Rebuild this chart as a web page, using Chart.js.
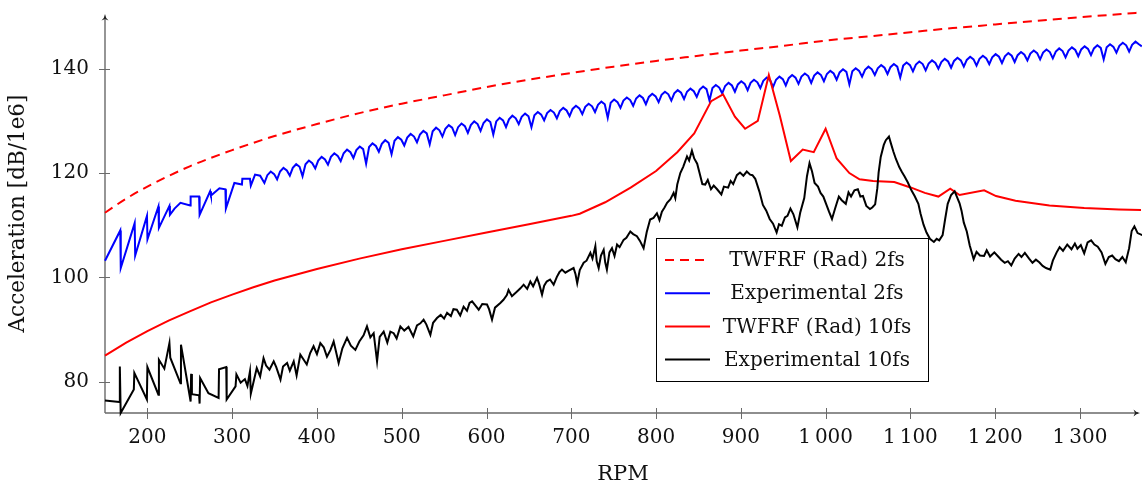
<!DOCTYPE html>
<html>
<head>
<meta charset="utf-8">
<script src="https://cdn.jsdelivr.net/npm/chart.js@4.4.1/dist/chart.umd.min.js"></script>
<style>
  html, body { margin: 0; padding: 0; background: #fff; }
  #wrap { width: 1142px; height: 487px; }
</style>
</head>
<body>
<div id="wrap"><canvas id="c" width="1142" height="487"></canvas></div>
<script>
// tick positions
const xTicks = [200, 300, 400, 500, 600, 700, 800, 900, 1000, 1100, 1200, 1300];
const yTicks = [80, 100, 120, 140];

// TWFRF (Rad) 2fs, read every 50 rpm
const twfrf2Rpm = [150, 175, 200, 250, 300, 350, 400, 450, 500, 550, 600, 650, 700, 750, 800, 850, 900, 950, 1000, 1050, 1100, 1150, 1200, 1250, 1300, 1350, 1372];
const twfrf2Acc = [112.4, 115.1, 117.4, 121.3, 124.4, 127.1, 129.4, 131.5, 133.3, 134.9, 136.5, 137.9, 139.2, 140.4, 141.5, 142.5, 143.5, 144.4, 145.4, 146.2, 147.0, 147.8, 148.5, 149.2, 149.9, 150.5, 150.8];

// TWFRF (Rad) 10fs
const twfrf10Rpm = [150, 175, 200, 225, 250, 275, 300, 325, 350, 375, 400, 450, 500, 550, 600, 650, 700, 710, 740, 770, 800, 825, 845, 865, 879, 893, 905, 920, 933, 946, 959, 973, 986, 1000, 1013, 1028, 1040, 1056, 1081, 1101, 1117, 1133, 1147, 1158, 1187, 1201, 1224, 1264, 1305, 1346, 1372];
const twfrf10Acc = [85.0, 87.5, 89.7, 91.7, 93.5, 95.2, 96.7, 98.1, 99.4, 100.5, 101.6, 103.6, 105.4, 107.0, 108.6, 110.2, 111.8, 112.2, 114.4, 117.2, 120.4, 124.0, 127.6, 133.8, 135.1, 130.8, 128.5, 130.0, 138.8, 131.0, 122.3, 124.5, 124.0, 128.5, 122.8, 120.0, 118.8, 118.5, 118.3, 117.2, 116.2, 115.5, 117.0, 115.8, 116.7, 115.6, 114.7, 113.8, 113.3, 113.0, 112.9];

// Experimental 2fs [rpm, dB]
const exp2fs = [
  [150,103.2],[168,109.0],[168.6,101.8],[185,110.4],[185.6,104.2],[199.5,111.8],[200.1,107.3],[213,113.6],[213.6,109.5],
  [226,113.7],[226.6,112.0],[232,113.2],[239,114.3],[250.5,113.8],[251,115.5],[261,115.5],[261.6,112.0],[274,116.5],
  [275,115.7],[285,117.1],[292,116.9],[292.6,113.2],[302.6,118.1],[311.5,117.8],[312,118.9],[321,118.9],[322,117.6],
  [327,119.7],[333,119.5],
  [338,118.1],[341.5,119.6],[345.5,120.3],[349.5,119.8],
  [353,118.8],[356.5,120.3],[360.5,121.0],[364.5,120.5],
  [368,119.5],[371.5,121.0],[375.5,121.7],[379.5,121.2],
  [383,119.4],[386.5,121.7],[390.5,122.4],[394.5,121.9],
  [398,120.9],[401.5,122.4],[405.5,123.1],[409.5,122.6],
  [413,121.6],[416.5,123.1],[420.5,123.8],[424.5,123.3],
  [428,122.3],[431.5,123.8],[435.5,124.5],[439.5,124.0],
  [443,122.9],[446.5,124.4],[450.5,125.1],[454.5,124.6],
  [458,121.8],[461.5,125.0],[465.5,125.7],[469.5,125.2],
  [473,124.1],[476.5,125.6],[480.5,126.3],[484.5,125.8],
  [488,123.6],[491.5,126.2],[495.5,126.9],[499.5,126.4],
  [503,125.3],[506.5,126.8],[510.5,127.5],[514.5,127.0],
  [518,125.9],[521.5,127.4],[525.5,128.1],[529.5,127.6],
  [533,125.5],[536.5,128.0],[540.5,128.7],[544.5,128.2],
  [548,127.0],[551.5,128.5],[555.5,129.2],[559.5,128.7],
  [563,127.3],[566.5,128.8],[570.5,129.5],[574.5,129.0],
  [578,127.7],[581.5,129.2],[585.5,129.9],[589.5,129.4],
  [593,128.1],[596.5,129.6],[600.5,130.3],[604.5,129.8],
  [608,127.4],[611.5,129.9],[615.5,130.6],[619.5,130.1],
  [623,128.8],[626.5,130.3],[630.5,131.0],[634.5,130.5],
  [638,129.4],[641.5,130.8],[645.5,131.4],[649.5,130.9],
  [653,128.8],[656.5,131.1],[660.5,131.7],[664.5,131.2],
  [668,130.1],[671.5,131.5],[675.5,132.1],[679.5,131.6],
  [683,130.5],[686.5,131.9],[690.5,132.5],[694.5,132.0],
  [698,130.9],[701.5,132.3],[705.5,132.9],[709.5,132.4],
  [713,131.3],[716.5,132.7],[720.5,133.3],[724.5,132.8],
  [728,131.7],[731.5,133.1],[735.5,133.7],[739.5,133.2],
  [743,130.6],[746.5,133.5],[750.5,134.1],[754.5,133.6],
  [758,132.5],[761.5,133.9],[765.5,134.5],[769.5,134.0],
  [773,132.9],[776.5,134.3],[780.5,134.9],[784.5,134.4],
  [788,133.2],[791.5,134.6],[795.5,135.2],[799.5,134.7],
  [803,133.6],[806.5,135.0],[810.5,135.6],[814.5,135.1],
  [818,133.9],[821.5,135.3],[825.5,135.9],[829.5,135.4],
  [833,134.2],[836.5,135.6],[840.5,136.2],[844.5,135.7],
  [848,134.6],[851.5,136.0],[855.5,136.6],[859.5,136.1],
  [863,133.9],[866.5,136.3],[870.5,136.9],[874.5,136.4],
  [878,135.3],[881.5,136.7],[885.5,137.3],[889.5,136.8],
  [893,135.6],[896.5,137.0],[900.5,137.6],[904.5,137.1],
  [908,135.9],[911.5,137.3],[915.5,137.9],[919.5,137.4],
  [923,136.3],[926.5,137.7],[930.5,138.3],[934.5,137.8],
  [938,136.5],[941.5,137.9],[945.5,138.5],[949.5,138.0],
  [953,136.8],[956.5,138.2],[960.5,138.8],[964.5,138.3],
  [968,137.1],[971.5,138.5],[975.5,139.1],[979.5,138.6],
  [983,137.3],[986.5,138.7],[990.5,139.3],[994.5,138.8],
  [998,137.6],[1001.5,139.0],[1005.5,139.6],[1009.5,139.1],
  [1013,137.9],[1016.5,139.3],[1020.5,139.9],[1024.5,139.4],
  [1028,137.0],[1031.5,139.5],[1035.5,140.1],[1039.5,139.6],
  [1043,138.5],[1046.5,139.8],[1050.5,140.4],[1054.5,139.9],
  [1058,138.8],[1061.5,140.1],[1065.5,140.7],[1069.5,140.2],
  [1073,139.0],[1076.5,140.3],[1080.5,140.9],[1084.5,140.4],
  [1088,138.3],[1091.5,140.6],[1095.5,141.2],[1099.5,140.7],
  [1103,139.5],[1106.5,140.8],[1110.5,141.4],[1114.5,140.9],
  [1118,139.7],[1121.5,141.0],[1125.5,141.6],[1129.5,141.1],
  [1133,140.0],[1136.5,141.3],[1140.5,141.9],[1144.5,141.4],
  [1148,140.2],[1151.5,141.5],[1155.5,142.1],[1159.5,141.6],
  [1163,140.4],[1166.5,141.7],[1170.5,142.3],[1174.5,141.8],
  [1178,140.6],[1181.5,141.9],[1185.5,142.5],[1189.5,142.0],
  [1193,140.9],[1196.5,142.2],[1200.5,142.8],[1204.5,142.3],
  [1208,141.1],[1211.5,142.4],[1215.5,143.0],[1219.5,142.5],
  [1223,141.3],[1226.5,142.6],[1230.5,143.2],[1234.5,142.7],
  [1238,141.6],[1241.5,142.9],[1245.5,143.5],[1249.5,143.0],
  [1253,141.8],[1256.5,143.1],[1260.5,143.7],[1264.5,143.2],
  [1268,142.0],[1271.5,143.3],[1275.5,143.9],[1279.5,143.4],
  [1283,142.2],[1286.5,143.5],[1290.5,144.1],[1294.5,143.6],
  [1298,142.4],[1301.5,143.7],[1305.5,144.3],[1309.5,143.8],
  [1313,142.6],[1316.5,143.9],[1320.5,144.5],[1324.5,144.0],
  [1328,141.8],[1331.5,144.1],[1335.5,144.7],[1339.5,144.2],
  [1343,143.1],[1346.5,144.4],[1350.5,145.0],[1354.5,144.5],
  [1358,143.3],[1361.5,144.6],[1365.5,145.2],[1369.5,144.7],
  [1373,144.3]
];

// Experimental 10fs [rpm, dB]
const exp10fs = [
  [150,76.4],[167,76.1],[167.5,82.9],[168.5,74.0],[184,78.5],[184.6,81.7],[199.4,76.6],[200,82.8],[213,77.5],
  [213.6,84.2],[220,82.5],[226,87.4],[227,84.6],[239,79.7],[239.6,87.1],[251,76.2],[251.6,81.5],[252.5,77.6],
  [261,77.4],[261.6,75.8],[262.2,80.7],[272,77.8],[284,76.9],[284.5,82.4],[293,82.8],[293.5,76.6],[304,79.1],
  [305,81.4],[310,79.8],[315,80.5],[318,79.2],[321,82.0],[322,77.7],[329,82.6],[333,81.0],[337,84.5],[340,83.1],
  [344,82.3],[349,83.9],[352,82.8],[357,80.4],[360,82.9],[364.8,83.6],[368,82.1],[372.6,83.9],[376,81.2],
  [380.4,85.2],[384,84.3],[388,83.3],[392,85.5],[396,86.8],[400,85.3],[404,87.4],[408,86.6],[411.8,84.8],
  [416,86.1],[419.7,87.7],[425.6,83.6],[430,86.4],[435.5,88.4],[440,86.9],[445.3,86.1],[450,87.7],[455,88.9],
  [459,90.6],[463,88.5],[466.9,89.3],[470.9,83.9],[474,88.6],[478.7,89.6],[483,87.5],[486.6,89.6],[490.5,89.3],
  [494,88.3],[498.4,90.6],[503,89.8],[508,90.5],[513.6,88.7],[518,90.8],[522,91.2],[525.8,91.9],[529,91.0],
  [533.8,89.0],[537,91.3],[541.6,92.2],[546,92.8],[550,92.1],[553.5,93.2],[558,92.6],[561,93.9],[565,93.8],
  [569,92.7],[573,94.4],[577,93.6],[580,95.1],[583,95.4],[587,94.6],[590.8,93.8],[595,94.9],[600.6,94.8],
  [603,93.9],[606.5,91.9],[610,94.2],[616.3,95.1],[620,95.7],[624,96.6],[626,97.6],[630,96.4],[636,97.3],
  [640,97.9],[643.8,98.6],[648,97.8],[651.7,99.2],[655,98.3],[659.6,99.9],[662,98.8],[665.5,96.7],[668,98.4],
  [671,99.2],[675,99.6],[679.2,98.6],[683,100.1],[686,101.0],[689,101.5],[693,100.9],[697,101.3],[702.7,101.8],
  [705,100.6],[707,98.9],[710,101.4],[714.6,102.8],[718,103.2],[722.5,104.7],[725,103.6],[728.4,106.0],
  [730,103.1],[732.3,101.8],[735,104.2],[738.2,105.3],[740,102.9],[742,101.5],[745,104.8],[748,105.6],
  [751,104.1],[754,106.3],[757,105.8],[761.7,107.2],[765,107.6],[769.6,108.8],[773,108.3],[777.4,107.9],
  [781,107.0],[785.3,105.6],[789,108.7],[793,111.1],[797,111.4],[801,112.3],[804,111.0],[806.9,112.6],
  [810,113.4],[813,114.3],[817,115.0],[820.7,116.2],[822.7,115.2],[825,117.8],[828.6,120.0],[832,121.2],
  [836.5,123.2],[839,122.4],[842.3,124.3],[845,122.8],[848.5,121.8],[851,120.2],[854.6,117.9],[858,117.8],
  [861,118.7],[864.8,116.9],[868,117.6],[872,116.9],[877,115.9],[880,117.4],[885,117.2],[888,118.5],[891,117.9],
  [895.3,119.6],[899,120.1],[903,119.5],[907,120.3],[911,119.7],[913.7,119.6],[917,118.9],[921.8,116.5],
  [926,113.9],[930,112.8],[934,111.2],[938,110.3],[942.2,108.6],[945,110.2],[948.3,109.9],[952,111.5],
  [955,111.8],[958.5,113.2],[962,112.1],[966.7,109.6],[970,112.4],[974.8,115.2],[978,119.4],[981,121.9],
  [984,120.3],[987,118.1],[991,117.4],[994,116.2],[997.3,115.5],[1001,113.9],[1004,112.6],[1007.5,111.2],
  [1011,113.1],[1015.6,115.5],[1019,114.8],[1023.8,114.1],[1027,116.3],[1030,115.5],[1034,116.7],[1038,116.9],
  [1041,115.5],[1044,115.6],[1048,113.7],[1052.3,113.1],[1055,113.4],[1058.4,114.0],[1061,117.1],[1062.5,120.1],
  [1065,123.1],[1068.6,125.4],[1071,126.3],[1074.7,127.0],[1077,125.7],[1080,124.1],[1082.9,122.7],[1087,121.1],
  [1090,120.2],[1093,119.4],[1097,118.2],[1101.2,116.7],[1105,115.6],[1109.4,114.1],[1112,112.2],[1115.5,110.1],
  [1119,108.6],[1123,107.4],[1127.7,106.8],[1131,107.4],[1134,107.1],[1138,108.1],[1141,111.2],[1144,114.1],
  [1148,115.8],[1152.2,116.5],[1155,115.4],[1158,114.2],[1160.3,112.8],[1163,110.5],[1166.5,108.8],[1170,106.1],
  [1174.6,103.5],[1178,104.9],[1182,104.2],[1186.9,104.1],[1190,105.2],[1194,104.0],[1199,104.8],[1203,104.1],
  [1207,103.4],[1211.3,102.8],[1215,103.1],[1219,102.3],[1223,103.6],[1227.6,104.5],[1231,103.9],[1235,104.7],
  [1240,103.6],[1244,102.8],[1248,103.4],[1252,102.9],[1256,102.2],[1260,101.8],[1265,101.5],[1268,103.2],
  [1272.5,104.8],[1276,105.8],[1280,105.1],[1285,106.3],[1290,105.4],[1294,106.5],[1297,105.5],[1301,106.2],
  [1305,104.6],[1309,106.7],[1313.2,107.1],[1317,106.3],[1321,105.9],[1325.5,104.8],[1330,102.6],[1334,103.9],
  [1338,104.2],[1341.8,103.5],[1346,103.1],[1350,103.9],[1354,102.9],[1358,105.6],[1361,108.9],[1364.2,109.8],
  [1368,108.5],[1373.6,108.1]
];

const FONT = "'DejaVu Serif', serif";
const AXIS_COLOR = '#6a6a6a';
const TEXT_COLOR = '#111';

function zip(xs, ys) { return xs.map((x, i) => ({ x, y: ys[i] })); }
function pairs(arr) { return arr.map(p => ({ x: p[0], y: p[1] })); }
function fmtRpm(v) {
  const s = String(v);
  return s.length > 3 ? s.slice(0, s.length - 3) + '\u2009' + s.slice(-3) : s;
}

// axis lines with arrow heads, ticks crossing the axis
const axesPlugin = {
  id: 'axes',
  beforeDatasetsDraw(chart) {
    const { ctx, chartArea: a, scales } = chart;
    const x0 = a.left, y0 = a.bottom;
    ctx.save();
    ctx.strokeStyle = AXIS_COLOR;
    ctx.fillStyle = AXIS_COLOR;
    ctx.lineWidth = 1.4;
    ctx.beginPath();
    ctx.moveTo(x0, y0); ctx.lineTo(x0, a.top + 3);
    ctx.moveTo(x0, y0); ctx.lineTo(a.right - 3, y0);
    ctx.stroke();
    ctx.lineWidth = 1;
    ctx.beginPath();
    xTicks.forEach(v => {
      const px = Math.round(scales.x.getPixelForValue(v)) + 0.5;
      ctx.moveTo(px, y0 - 5); ctx.lineTo(px, y0 + 6);
    });
    yTicks.forEach(v => {
      const py = Math.round(scales.y.getPixelForValue(v)) + 0.5;
      ctx.moveTo(x0 - 6, py); ctx.lineTo(x0 + 5, py);
    });
    ctx.stroke();
    // arrow heads
    ctx.fillStyle = '#222';
    ctx.beginPath();
    ctx.moveTo(x0, a.top);
    ctx.quadraticCurveTo(x0 + 0.5, a.top + 4, x0 + 3.5, a.top + 6.5);
    ctx.lineTo(x0, a.top + 5);
    ctx.lineTo(x0 - 3.5, a.top + 6.5);
    ctx.quadraticCurveTo(x0 - 0.5, a.top + 4, x0, a.top);
    ctx.fill();
    const xr = a.right - 1;
    ctx.beginPath();
    ctx.moveTo(xr, y0);
    ctx.quadraticCurveTo(xr - 4, y0 + 0.5, xr - 6.5, y0 + 3.5);
    ctx.lineTo(xr - 5, y0);
    ctx.lineTo(xr - 6.5, y0 - 3.5);
    ctx.quadraticCurveTo(xr - 4, y0 - 0.5, xr, y0);
    ctx.fill();
    ctx.restore();
  }
};

// framed legend inside the plot
const legendPlugin = {
  id: 'boxLegend',
  afterDraw(chart) {
    const { ctx } = chart;
    const box = { x: 656.5, y: 238.5, w: 272, h: 143 };
    ctx.save();
    ctx.fillStyle = '#fff';
    ctx.fillRect(box.x, box.y, box.w, box.h);
    ctx.strokeStyle = '#000';
    ctx.lineWidth = 1;
    ctx.strokeRect(box.x, box.y, box.w, box.h);
    chart.data.datasets.forEach((ds, i) => {
      const cy = 260 + i * 33.2;
      ctx.strokeStyle = ds.borderColor;
      ctx.lineWidth = ds.borderWidth;
      ctx.setLineDash(ds.borderDash || []);
      ctx.beginPath();
      ctx.moveTo(665, cy); ctx.lineTo(710, cy);
      ctx.stroke();
      ctx.setLineDash([]);
      ctx.fillStyle = TEXT_COLOR;
      ctx.font = '20px ' + FONT;
      ctx.textAlign = 'center';
      ctx.textBaseline = 'middle';
      ctx.fillText(ds.label, 817, cy + 1);
    });
    ctx.restore();
  }
};

new Chart(document.getElementById('c'), {
  type: 'line',
  data: {
    datasets: [
      { label: 'TWFRF (Rad) 2fs', data: zip(twfrf2Rpm, twfrf2Acc), borderColor: '#ff0000', borderWidth: 2, borderDash: [9, 6], cubicInterpolationMode: 'monotone', order: 4 },
      { label: 'Experimental 2fs', data: pairs(exp2fs), borderColor: '#0000ff', borderWidth: 2, tension: 0, order: 3 },
      { label: 'TWFRF (Rad) 10fs', data: zip(twfrf10Rpm, twfrf10Acc), borderColor: '#ff0000', borderWidth: 2, tension: 0, order: 2 },
      { label: 'Experimental 10fs', data: pairs(exp10fs), borderColor: '#000000', borderWidth: 2, tension: 0, order: 1 }
    ]
  },
  options: {
    responsive: false,
    animation: false,
    devicePixelRatio: 1,
    layout: { padding: { left: 0, right: 1, top: 14, bottom: 0 } },
    elements: { point: { radius: 0, hoverRadius: 0 }, line: { fill: false, borderJoinStyle: 'miter', borderCapStyle: 'butt' } },
    datasets: { line: { clip: false } },
    plugins: { legend: { display: false }, tooltip: { enabled: false } },
    scales: {
      x: {
        type: 'linear', min: 150, max: 1372,
        afterFit(s) { s.height = 74; s.paddingLeft = 0; s.paddingRight = 0; },
        afterBuildTicks(s) { s.ticks = xTicks.map(v => ({ value: v })); },
        grid: { display: false, drawTicks: false },
        border: { display: false },
        ticks: { font: { family: FONT, size: 20 }, color: TEXT_COLOR, padding: 13, maxRotation: 0, autoSkip: false, callback: v => fmtRpm(v) },
        title: { display: true, text: 'RPM', font: { family: FONT, size: 21 }, color: TEXT_COLOR, padding: { top: 0, bottom: 0 } }
      },
      y: {
        type: 'linear', min: 74, max: 150.5,
        afterFit(s) { s.width = 105; s.paddingTop = 0; s.paddingBottom = 0; },
        afterBuildTicks(s) { s.ticks = yTicks.map(v => ({ value: v })); },
        grid: { display: false, drawTicks: false },
        border: { display: false },
        ticks: { font: { family: FONT, size: 20 }, color: TEXT_COLOR, padding: 16 },
        title: { display: true, text: 'Acceleration [dB/1e6]', font: { family: FONT, size: 21.5 }, color: TEXT_COLOR, padding: { top: 6, bottom: 0 } }
      }
    }
  },
  plugins: [axesPlugin, legendPlugin]
});
</script>
</body>
</html>
